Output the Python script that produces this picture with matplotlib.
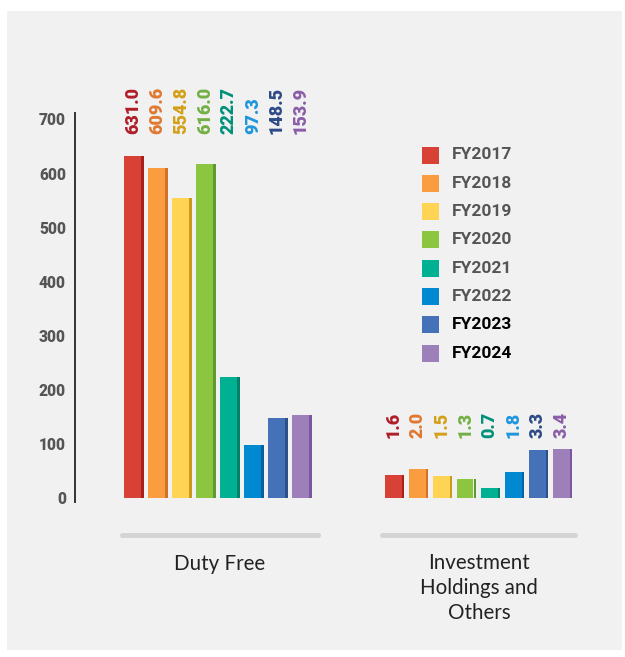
import matplotlib
matplotlib.use("Agg")
import matplotlib.pyplot as plt
from matplotlib.patches import Rectangle
from matplotlib.lines import Line2D

# ---- data -------------------------------------------------------------
years = ["FY2017", "FY2018", "FY2019", "FY2020", "FY2021", "FY2022", "FY2023", "FY2024"]
duty_free = [631.0, 609.6, 554.8, 616.0, 222.7, 97.3, 148.5, 153.9]
investment = [1.6, 2.0, 1.5, 1.3, 0.7, 1.8, 3.3, 3.4]
segments = ["Duty Free", "Investment\nHoldings and\nOthers"]
y_ticks = [0, 100, 200, 300, 400, 500, 600, 700]

# ---- styling ----------------------------------------------------------
face_colors = ["#d84236", "#fa9d41", "#ffd454", "#8cc53f",
               "#00b093", "#0089d0", "#4571b8", "#9d7fba"]
side_colors = ["#a81f1c", "#d5702a", "#cc9a1a", "#5f9a30",
               "#00806a", "#0062a0", "#2d5088", "#7a56a0"]
label_colors = ["#b01e28", "#e07830", "#d4a017", "#72b043",
                "#00917a", "#1e96dc", "#2e4a86", "#8a5ea8"]
legend_text_colors = ["#555555"] * 6 + ["#000000", "#000000"]

W, H = 625, 657
fig = plt.figure(figsize=(W / 100, H / 100), dpi=100)
fig.patch.set_facecolor("white")

def fx(px):
    return px / W

def fy(py):
    return 1 - py / H

# light grey panel
fig.add_artist(Rectangle((fx(7), fy(650)), fx(622) - fx(7), fy(11) - fy(650),
                         transform=fig.transFigure, facecolor="#f1f1f1",
                         edgecolor="none", zorder=0))

# main axes (left scale) spanning x 75..600 px, y 113..502 px
ax = fig.add_axes([fx(75), fy(502), fx(600) - fx(75), fy(113) - fy(502)])
ax.set_facecolor("none")
y_lo, y_hi = -7.4, 711
ax.set_ylim(y_lo, y_hi)
pitch_px = 24.0
ax.set_xlim(0, 525 / pitch_px)

for s in ["top", "right", "bottom"]:
    ax.spines[s].set_visible(False)
ax.spines["left"].set_color("#333333")
ax.spines["left"].set_linewidth(1.4)
ax.set_xticks([])
ax.set_yticks(y_ticks)
ax.set_yticklabels([str(v) for v in y_ticks], fontfamily="Roboto",
                   fontweight="heavy", fontsize=11.2, color="#555555")
ax.tick_params(axis="y", length=0, pad=6.5)

# secondary scale for the small segment (own scale, no ticks)
scale = 26.8
ax2 = ax.twinx()
ax2.set_ylim(y_lo / scale, y_hi / scale)
ax2.set_yticks([])
for s in ax2.spines.values():
    s.set_visible(False)

face_w = 17.0 / pitch_px
side_w = 2.6 / pitch_px
left_start = (132.5 - 75) / pitch_px
right_start = (393 - 75) / pitch_px

def draw_group(axis, start, values, label_y, fmt="{:.1f}"):
    for i, v in enumerate(values):
        xc = start + i
        axis.bar(xc, v, width=face_w, color=face_colors[i], zorder=3,
                 linewidth=0)
        axis.bar(xc + face_w / 2 + side_w / 2, v, width=side_w,
                 color=side_colors[i], zorder=3, linewidth=0)
        axis.text(xc + 0.02, label_y, fmt.format(v), rotation=90,
                  ha="center", va="bottom", fontfamily="Roboto",
                  fontweight="heavy", fontsize=13, color=label_colors[i],
                  zorder=4)

draw_group(ax, left_start, duty_free, 672)
draw_group(ax2, right_start, investment, 4.1)

# segment separators and names
for (x0, x1) in [(122, 318), (382, 575)]:
    fig.add_artist(Line2D([fx(x0), fx(x1)], [fy(535), fy(535)],
                          transform=fig.transFigure, color="#d4d4d4",
                          linewidth=3.6, solid_capstyle="round"))
fig.text(fx(220), fy(564), segments[0], ha="center", va="center",
         fontfamily="Lato", fontsize=14.8, color="#222222")
fig.text(fx(479), fy(588), segments[1], ha="center", va="center",
         fontfamily="Lato", fontsize=14.8, color="#222222", linespacing=1.32)

# legend
leg_y0, leg_step = 155, 28.3
for i, name in enumerate(years):
    cy = leg_y0 + i * leg_step
    fig.add_artist(Rectangle((fx(422), fy(cy + 8.5)), fx(439) - fx(422),
                             fy(cy - 8.5) - fy(cy + 8.5),
                             transform=fig.transFigure,
                             facecolor=face_colors[i], edgecolor="none"))
    fig.text(fx(452), fy(cy), name, ha="left", va="center",
             fontfamily="Roboto", fontweight="bold", fontsize=12.5,
             color=legend_text_colors[i])

fig.savefig("out.png", dpi=100, facecolor=fig.get_facecolor())
